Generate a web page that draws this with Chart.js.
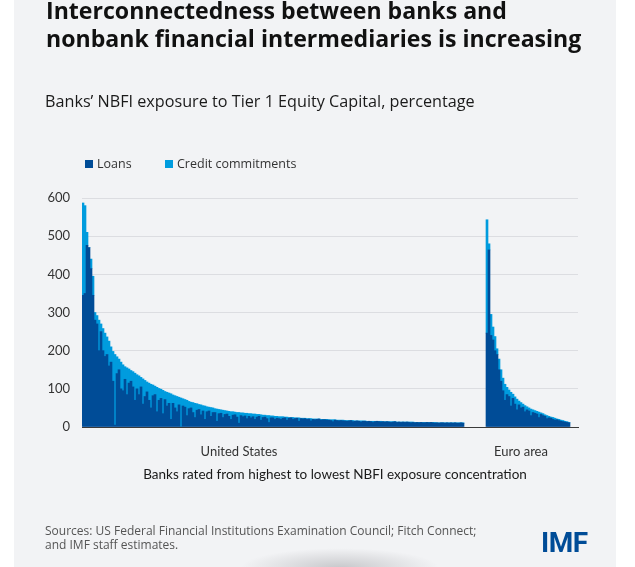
<!DOCTYPE html>
<html>
<head>
<meta charset="utf-8">
<script src="https://cdn.jsdelivr.net/npm/chart.js@4"></script>
<style>
  html, body { margin: 0; padding: 0; background: #ffffff; }
  body { width: 635px; height: 567px; position: relative; overflow: hidden; font-family: "Open Sans", "Noto Sans", sans-serif; color: #1a1a1a; }
  #panel { position: absolute; left: 14px; top: 0; width: 602px; height: 567px; background: #f2f3f5; }
  #shadow { position: absolute; left: 240px; top: 548px; width: 200px; height: 40px;
            background: radial-gradient(ellipse at center, rgba(120,120,125,0.35) 0%, rgba(120,120,125,0) 70%); }
  canvas { position: absolute; left: 0; top: 0; }
  .txt { position: absolute; white-space: nowrap; }
  #title { left: 46px; top: -3px; font-weight: 700; font-size: 23.1px; line-height: 27.5px; color: #111; }
  #subtitle { left: 45px; top: 90px; font-size: 16.2px; color: #1a1a1a; }
  .leg { top: 155px; font-size: 12.5px; color: #333; }
  .leg span { display: inline-block; width: 8px; height: 8px; margin-right: 4px; }
  #xtitle { left: 0; width: 670px; text-align: center; top: 466px; font-family: "Lato", sans-serif; font-size: 13.5px; color: #1a1a1a; }
  #source { left: 45px; top: 524px; font-size: 12px; line-height: 14px; color: #555; }
  #logo { left: 541px; top: 526px; font-family: "Roboto", sans-serif; font-weight: 700; font-size: 28px; color: #004c97; letter-spacing: -0.5px; }
</style>
</head>
<body>
<div id="panel"></div>
<div id="shadow"></div>
<canvas id="chart" width="635" height="567"></canvas>
<div class="txt" id="title">Interconnectedness between banks and<br>nonbank financial intermediaries is increasing</div>
<div class="txt" id="subtitle">Banks’ NBFI exposure to Tier 1 Equity Capital, percentage</div>
<div class="txt leg" style="left:85px"><span style="background:#004c97"></span>Loans</div>
<div class="txt leg" style="left:165px"><span style="background:#009cde"></span>Credit commitments</div>
<div class="txt" id="xtitle">Banks rated from highest to lowest NBFI exposure concentration</div>
<div class="txt" id="source">Sources: US Federal Financial Institutions Examination Council; Fitch Connect;<br>and IMF staff estimates.</div>
<div class="txt" id="logo">IMF</div>
<script>
// -------------------------------------------------------------------
// Data (percent of Tier 1 equity capital)
// -------------------------------------------------------------------
const groups = ["United States", "Euro area"];

// total exposure (loans + credit commitments), US banks
const usTotal = [
  587, 580, 510, 465, 440, 395, 300, 292, 280, 270,
  258, 246, 236, 225, 210, 198, 190, 184, 178, 170,
  163, 158, 155, 152, 148, 145, 141, 137, 134, 130,
  126, 122, 118, 115, 112, 110, 107, 104, 101, 99,
  96, 93, 91, 89, 87, 84, 82, 80, 78, 76,
  74, 72, 70, 67, 65, 64, 62, 61, 59, 58,
  56, 55, 53, 52, 51, 50, 48, 47, 46, 45,
  44, 43, 42, 41, 40, 40, 39, 38, 38, 37,
  37, 36, 36, 35, 35, 34, 34, 33, 33, 32,
  31, 31, 30, 30, 29, 29, 28, 28, 27, 27,
  27, 26, 26, 25, 25, 25, 24, 24, 24, 23,
  23, 23, 22, 22, 22, 21, 21, 21, 21, 20,
  20, 20, 20, 19, 19, 19, 19, 18, 18, 18,
  18, 17, 17, 17, 17, 17, 16, 16, 16, 16,
  16, 16, 15, 15, 15, 15, 15, 15, 15, 15,
  14, 14, 14, 14, 14, 14, 14, 13, 13, 13,
  13, 13, 13, 13, 13, 13, 12, 12, 12, 12,
  12, 12, 12, 12, 12, 12, 12, 11, 11, 11,
  11, 11, 11, 11, 11, 11, 11, 11, 11, 11,
  11
];

// loans part, US banks
const usLoans = [
  345, 350, 476, 470, 415, 345, 280, 270, 200, 250,
  200, 185, 190, 160, 170, 120, 5, 140, 150, 100,
  95, 125, 85, 115, 120, 105, 70, 100, 85, 105,
  60, 80, 92, 70, 50, 82, 85, 40, 70, 75,
  35, 72, 55, 62, 20, 62, 50, 40, 58, 0,
  55, 52, 30, 48, 50, 38, 25, 44, 46, 32,
  42, 20, 40, 42, 28, 38, 38, 15, 35, 36,
  25, 33, 34, 28, 20, 31, 32, 26, 10, 30,
  27, 29, 22, 28, 24, 27, 20, 26, 28, 18,
  25, 26, 22, 12, 24, 24, 20, 23, 22, 20,
  23, 24, 18, 23, 24, 20, 22, 23, 15, 22,
  21, 22, 20, 21, 16, 20, 19, 20, 21, 18,
  19, 19, 18, 18, 17, 14, 18, 17, 16, 17,
  16, 16, 15, 16, 17, 14, 15, 16, 15, 13,
  15, 15, 14, 15, 14, 12, 14, 15, 14, 13,
  14, 13, 14, 13, 12, 13, 14, 12, 13, 12,
  13, 12, 13, 12, 11, 12, 11, 12, 11, 12,
  11, 11, 12, 11, 12, 11, 10, 11, 10, 11,
  11, 10, 11, 10, 11, 10, 11, 10, 10, 11,
  10
];

// total exposure, euro area banks
const euTotal = [
  543, 480, 295, 262, 237, 205, 178, 150, 128, 112,
  104, 97, 91, 86, 79, 73, 68, 64, 60, 56,
  53, 50, 47, 45, 43, 41, 39, 37, 35, 32,
  30, 28, 26, 25, 23, 21, 20, 18, 17, 15,
  14, 12
];

// loans part, euro area banks
const euLoans = [
  246, 464, 240, 228, 200, 190, 150, 120, 95, 70,
  85, 80, 55, 75, 60, 45, 58, 50, 52, 40,
  45, 42, 30, 38, 36, 34, 25, 33, 30, 28,
  22, 24, 23, 20, 18, 19, 17, 15, 14, 13,
  12, 11
];

const yTicks = [0, 100, 200, 300, 400, 500, 600];

// -------------------------------------------------------------------
// Build category table: US banks, empty gap, euro banks, empty tail
// -------------------------------------------------------------------
const GAP = 11, TAIL = 4;
const US_LABEL_AT = 78, EU_LABEL_AT = 219;

const blank = n => Array(n).fill(null);
const loans = [...usLoans, ...blank(GAP), ...euLoans, ...blank(TAIL)];
const totals = [...usTotal, ...blank(GAP), ...euTotal, ...blank(TAIL)];
const commitments = totals.map((t, i) => t == null ? null : Math.max(t - loans[i], 0));

const labels = loans.map(() => "");
labels[US_LABEL_AT] = groups[0];
labels[EU_LABEL_AT] = groups[1];

// -------------------------------------------------------------------
// Chart
// -------------------------------------------------------------------
const FONT = "'Lato', 'Noto Sans', sans-serif";

new Chart(document.getElementById("chart"), {
  type: "bar",
  data: {
    labels: labels,
    datasets: [
      { label: "Loans", data: loans, backgroundColor: "#004c97" },
      { label: "Credit commitments", data: commitments, backgroundColor: "#009cde" }
    ]
  },
  options: {
    responsive: false,
    animation: false,
    devicePixelRatio: 1,
    layout: { padding: { top: 198, right: 57, bottom: 110, left: 0 } },
    datasets: { bar: { barPercentage: 1, categoryPercentage: 1, borderWidth: 0 } },
    plugins: { legend: { display: false }, tooltip: { enabled: false } },
    scales: {
      x: {
        stacked: true,
        grid: { display: false },
        border: { display: true, color: "#3a3a3a", width: 1 },
        ticks: { autoSkip: false, maxRotation: 0, padding: 9, color: "#333", font: { family: FONT, size: 13 } },
        afterFit: s => { s.height = 30; }
      },
      y: {
        stacked: true,
        min: 0,
        max: 600,
        afterBuildTicks: s => { s.ticks = yTicks.map(v => ({ value: v })); },
        grid: { color: "#dcdde1", drawTicks: false },
        border: { display: false },
        ticks: { padding: 12, color: "#333", font: { family: FONT, size: 13 } },
        afterFit: s => { s.width = 82; }
      }
    }
  }
});
</script>
</body>
</html>
